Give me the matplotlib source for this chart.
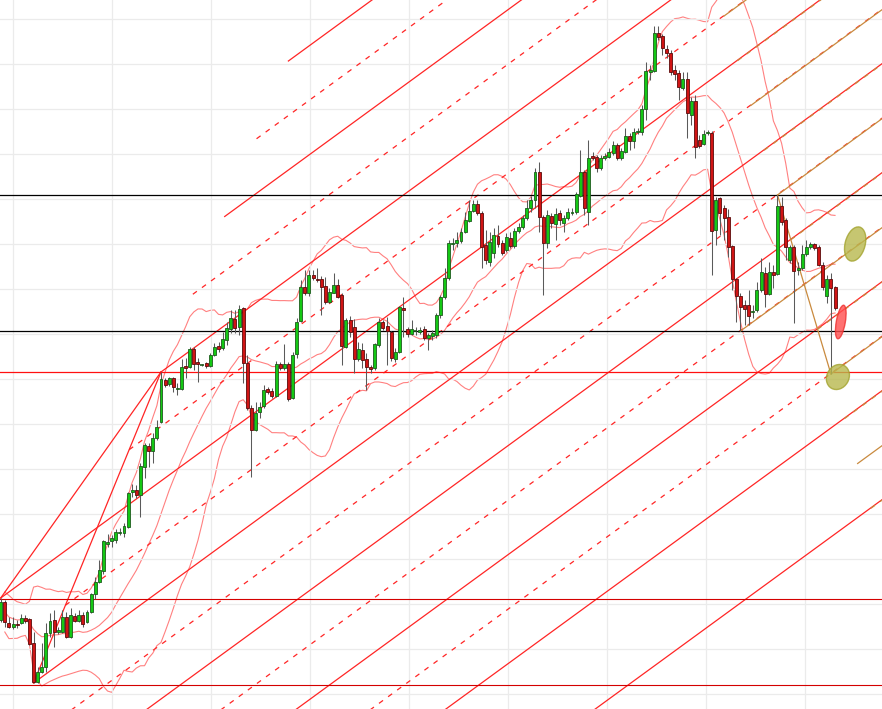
import numpy as np
import pandas as pd
import matplotlib
matplotlib.use("Agg")
import matplotlib.pyplot as plt
from matplotlib.patches import Ellipse
from matplotlib.transforms import ScaledTranslation

# OHLC (price in chart points)
opens = [89, 107, 86, 82, 85, 86, 91, 90, 66, 27, 37, 42, 76, 89, 77, 77, 92, 72, 93, 88,
         94, 87, 97, 115, 127, 138, 165, 168, 169, 176, 176, 182, 217, 219, 214, 242, 263, 258, 271, 287,
         329, 325, 331, 320, 320, 343, 342, 360, 347, 344, 346, 343, 354, 363, 361, 369, 380, 390, 382, 401,
         346, 301, 279, 297, 303, 320, 318, 313, 345, 341, 345, 311, 355, 388, 422, 416, 434, 430, 430, 423,
         407, 416, 424, 414, 362, 389, 382, 350, 359, 350, 342, 341, 364, 387, 383, 377, 350, 357, 401, 380,
         375, 378, 377, 380, 371, 373, 374, 394, 412, 431, 465, 466, 468, 477, 488, 498, 505, 496, 464, 447,
         456, 473, 466, 459, 471, 463, 478, 482, 491, 501, 509, 537, 492, 466, 493, 485, 496, 486, 491, 496,
         497, 513, 537, 497, 553, 552, 541, 551, 552, 556, 564, 551, 557, 573, 568, 577, 577, 600, 637, 638,
         676, 673, 660, 656, 639, 636, 621, 630, 594, 608, 569, 565, 576, 576, 479, 511, 501, 492, 463, 430,
         413, 404, 404, 397, 399, 419, 436, 415, 437, 435, 503, 489, 449, 462, 439, 441, 455, 462, 465, 462,
         444, 413, 430, 422]
highs = [111, 109, 92, 92, 89, 95, 94, 91, 77, 42, 66, 86, 96, 99, 82, 99, 97, 101, 96, 99,
         97, 99, 116, 132, 149, 169, 175, 174, 180, 181, 186, 217, 225, 224, 246, 266, 266, 276, 289, 337,
         331, 332, 332, 326, 350, 351, 362, 362, 351, 345, 347, 356, 366, 367, 377, 387, 399, 399, 404, 402,
         354, 304, 307, 307, 324, 322, 321, 348, 347, 365, 347, 357, 391, 429, 439, 439, 439, 441, 433, 432,
         421, 436, 430, 416, 391, 393, 390, 367, 366, 356, 344, 366, 391, 389, 392, 378, 361, 403, 412, 382,
         389, 382, 382, 383, 376, 379, 396, 414, 441, 469, 471, 477, 481, 497, 509, 509, 509, 498, 479, 477,
         481, 484, 469, 476, 477, 481, 486, 494, 509, 513, 541, 547, 494, 499, 496, 501, 499, 494, 501, 501,
         517, 559, 539, 569, 557, 554, 554, 556, 561, 568, 566, 561, 581, 576, 581, 581, 604, 647, 644, 683,
         683, 675, 664, 659, 644, 639, 637, 637, 612, 614, 574, 579, 579, 578, 512, 512, 504, 500, 464, 431,
         416, 409, 419, 404, 427, 451, 442, 447, 444, 514, 512, 491, 464, 464, 447, 464, 469, 467, 466, 464,
         447, 434, 436, 423]
lows = [87, 82, 81, 80, 81, 85, 86, 64, 26, 26, 36, 37, 72, 62, 75, 76, 71, 71, 87, 87,
        82, 86, 96, 110, 126, 135, 162, 162, 166, 174, 172, 181, 212, 211, 192, 231, 242, 246, 269, 286,
        322, 323, 317, 314, 319, 331, 341, 339, 327, 343, 341, 342, 353, 357, 359, 364, 376, 376, 374, 326,
        299, 232, 278, 291, 301, 315, 311, 312, 339, 339, 308, 310, 351, 387, 414, 413, 429, 427, 394, 405,
        406, 416, 411, 344, 361, 372, 336, 348, 341, 319, 336, 339, 362, 379, 344, 348, 347, 356, 372, 372,
        374, 374, 375, 369, 359, 369, 371, 391, 410, 429, 459, 462, 466, 476, 487, 497, 494, 441, 445, 443,
        451, 462, 454, 457, 461, 461, 476, 480, 489, 497, 501, 477, 414, 461, 481, 469, 484, 477, 489, 494,
        495, 512, 494, 484, 549, 537, 539, 549, 551, 554, 549, 549, 556, 559, 561, 575, 574, 589, 629, 637,
        669, 654, 651, 634, 629, 609, 619, 571, 584, 551, 561, 564, 574, 434, 464, 474, 469, 452, 419, 387,
        378, 384, 384, 391, 397, 417, 402, 414, 421, 434, 484, 449, 446, 386, 434, 439, 453, 460, 459, 443,
        419, 406, 335, 399]
closes = [107, 87, 82, 85, 84, 91, 88, 65, 27, 37, 42, 76, 88, 77, 79, 92, 72, 94, 88, 94,
          85, 97, 115, 127, 139, 168, 167, 171, 177, 177, 183, 216, 219, 214, 243, 264, 258, 271, 282, 330,
          324, 331, 322, 321, 342, 341, 360, 345, 345, 344, 343, 354, 362, 360, 370, 381, 391, 381, 400, 346,
          301, 279, 296, 302, 319, 317, 313, 345, 341, 345, 310, 354, 387, 422, 416, 434, 431, 429, 422, 407,
          417, 424, 412, 363, 389, 377, 350, 360, 349, 342, 340, 365, 387, 381, 378, 351, 357, 402, 399, 375,
          380, 378, 379, 371, 374, 376, 394, 412, 431, 466, 466, 469, 477, 489, 498, 505, 496, 462, 449, 467,
          474, 465, 456, 472, 463, 478, 482, 491, 501, 509, 537, 492, 466, 494, 486, 495, 489, 491, 497, 497,
          515, 537, 501, 551, 551, 541, 551, 553, 557, 564, 551, 558, 573, 568, 577, 578, 600, 638, 639, 676,
          672, 661, 656, 637, 635, 622, 630, 596, 608, 562, 563, 575, 577, 478, 509, 496, 491, 462, 430, 413,
          402, 400, 393, 398, 419, 437, 415, 437, 434, 503, 487, 462, 462, 438, 441, 455, 462, 465, 461, 444,
          422, 430, 421, 401]

# pitchfork pivots (candle index, price)
red_fork = [(0, 111), (39, 337), (8, 26)]
red_levels = [-5, -4, -3.5, -3, -2.5, -2, -1.5, -1, -0.5, 0, 0.5, 1, 1.5, 2, 2.5, 3]
brown_fork = [(180, 378), (189, 514), (202, 335)]
brown_levels = [-3, -2.5, -2, -1.5, -1, -0.5, 0, 0.5, 1, 1.5, 2, 2.5, 3]

# horizontal levels
black_levels = [514, 378]
red_hlevels = [337]
dark_red_levels = [110, 24]

# marked zones: (index, price, width px, height px, angle, face, edge)
zones = [(207.9, 465, 20, 35, -15, '#b8b84e', '#a3a32e'),
         (203.7, 332, 22, 26, -30, '#b8b84e', '#a3a32e'),
         (204.4, 387, 9, 34, -10, '#ff4d4d', '#ee3030')]

idx = np.arange(len(closes))
o = np.array(opens, float)
h = np.array(highs, float)
l = np.array(lows, float)
c = np.array(closes, float)

fig = plt.figure(figsize=(8.82, 7.09), dpi=100)
ax = fig.add_axes([0, 0, 1, 1])
x0, x1 = -0.17, 214.43
ax.set_xlim(x0, x1)
ax.set_ylim(0, 709)

# grid
ax.set_xticks(np.arange(2.92, x1, 24.09))
ax.set_yticks(np.arange(14.7, 709, 45))
ax.grid(True, color='#ebebeb', linewidth=0.9, zorder=0)
ax.tick_params(length=0, labelbottom=False, labelleft=False)
for s in ax.spines.values():
    s.set_visible(False)

# bollinger bands
cs = pd.Series(c)
mid = cs.rolling(20, min_periods=2).mean()
sd = cs.rolling(20, min_periods=2).std(ddof=0)
for band in (mid + 2 * sd, mid, mid - 2 * sd):
    ax.plot(idx, band, color='#ff6a6a', linewidth=0.8, alpha=0.85, zorder=1)


def draw_fork(pts, levels, color, zorder):
    p1, p2, p3 = pts
    mx, my = (p2[0] + p3[0]) / 2, (p2[1] + p3[1]) / 2
    slope = (my - p1[1]) / (mx - p1[0])
    for k in levels:
        if k == 0:
            sx, sy = p1
        else:
            sx, sy = mx + k * (p2[0] - mx), my + k * (p2[1] - my)
        ex = x1 + 1
        ey = sy + slope * (ex - sx)
        ls = '-' if float(k).is_integer() else (0, (4, 5))
        ax.plot([sx, ex], [sy, ey], color=color, linewidth=0.9, linestyle=ls, zorder=zorder)
    return p1, p2, p3


p1, p2, p3 = draw_fork(red_fork, red_levels, '#ff2525', 2)
ax.plot([p1[0], p2[0]], [p1[1], p2[1]], color='#ff2525', linewidth=0.9, zorder=2)
ax.plot([p3[0], p2[0]], [p3[1], p2[1]], color='#ff2525', linewidth=0.9, zorder=2)

q1, q2, q3 = draw_fork(brown_fork, brown_levels, '#c98a3e', 3)
ax.plot([q2[0], q3[0]], [q2[1], q3[1]], color='#c98a3e', linewidth=0.9, zorder=3)

for y in black_levels:
    ax.axhline(y, color='black', linewidth=0.9, zorder=2.5)
for y in red_hlevels:
    ax.axhline(y, color='#ff1010', linewidth=0.9, zorder=2.5)
for y in dark_red_levels:
    ax.axhline(y, color='#d40000', linewidth=0.8, zorder=2.5)

# candles
ax.vlines(idx, l, h, color='#5a5a5a', linewidth=0.75, zorder=4)
up = c > o
down = c < o
flat = c == o
ax.bar(idx[up], (c - o)[up], bottom=o[up], width=0.72, color='#14c814',
       edgecolor='#1d5a1d', linewidth=0.6, zorder=5)
ax.bar(idx[down], (c - o)[down], bottom=o[down], width=0.72, color='#d01414',
       edgecolor='#5a0a0a', linewidth=0.6, zorder=5)
ax.hlines(c[flat], idx[flat] - 0.4, idx[flat] + 0.4, color='#1d5a1d', linewidth=1.2, zorder=5)

for zx, zy, w, hh, ang, fc, ec in zones:
    tr = fig.dpi_scale_trans + ScaledTranslation(zx, zy, ax.transData)
    ax.add_patch(Ellipse((0, 0), w / 100, hh / 100, angle=ang, transform=tr,
                         facecolor=fc, edgecolor=ec, alpha=0.8, linewidth=1, zorder=6))

fig.savefig('out.png', dpi=100)
